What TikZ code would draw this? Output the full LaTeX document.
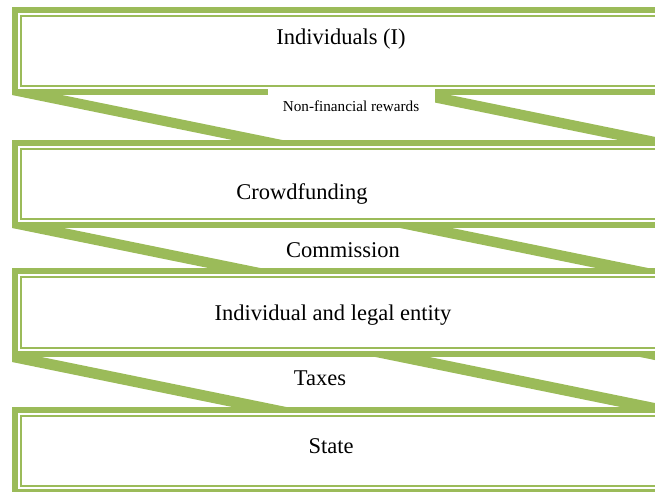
\documentclass[tikz,border=0pt]{standalone}
\usepackage{fontspec}
\setmainfont{Liberation Serif}
\usetikzlibrary{backgrounds}

\definecolor{leaf}{RGB}{155,187,89}

\begin{document}
\begin{tikzpicture}[x=1pt, y=1pt,
			stage/.style={draw=leaf, line width=6pt, outer sep=3pt, fill=white, inner sep=0pt,
				minimum width=705pt, minimum height=82pt,
				path picture={\draw[leaf, line width=1.6pt] ([shift={(6pt,-6pt)}]path picture bounding box.north west) rectangle ([shift={(-6pt,6pt)}]path picture bounding box.south east);}},
			big/.style={font=\fontsize{22.5}{27}\selectfont, anchor=base, inner sep=0pt},
			small/.style={font=\fontsize{15.2}{18}\selectfont, anchor=base, fill=white, inner sep=0pt,
				minimum width=167pt, text height=23pt, text depth=19pt},
			band/.style={fill=leaf}]
			\useasboundingbox (0,0) rectangle (655,491);
			% the four stages
			\node[stage](indiv) at (367.5,440){};
			\node[stage](crowd) at (367.5,307){};
			\node[stage, minimum height=83pt](entity) at (367.5,178.5){};
			\node[stage](state) at (367.5,40){};
			\node[big](indivtext) at (341,446){Individuals (I)};
			\node[big](crowdtext) at (302,292){Crowdfunding};
			\node[big](entitytext) at (333,171){Individual and legal entity};
			\node[big](statetext) at (331,38){State};
			% slanted bands between the stages
			\begin{scope}[on background layer]
				\fill[band] ([yshift=3pt]indiv.south west) -- ++(50,0) -- ++(0,-3) -- ++(235,-48) -- ++(-50,0) -- (indiv.south west) -- cycle;
				\fill[band] ([shift={(371.3,3)}]indiv.south west) -- ++(52,0) -- ++(235,-48) -- ++(-52,0) -- cycle;
				\fill[band] ([yshift=3pt]crowd.south west) -- ++(52,0) -- ++(0,-3) -- ++(211,-43) -- ++(-52,0) -- (crowd.south west) -- cycle;
				\fill[band] ([shift={(373.3,3)}]crowd.south west) -- ++(52,0) -- ++(225.4,-46) -- ++(-52,0) -- cycle;
				\fill[band] ([yshift=3pt]entity.south west) -- ++(14.8,0) -- ++(274.2,-56) -- ++(-54,0) -- ([yshift=-5pt]entity.south west) -- cycle;
				\fill[band] ([shift={(348.8,3)}]entity.south west) -- ++(54,0) -- ++(274.4,-56) -- ++(-54,0) -- cycle;
				\fill[band] ([shift={(613.3,3)}]entity.south west) -- ++(54,0) -- ++(274.4,-56) -- ++(-54,0) -- cycle;
			\end{scope}
			% flows
			\node[small](reward) at (351,379){Non-financial rewards};
			\node[big](commission) at (343,234){Commission};
			\node[big](taxes) at (320,106){Taxes};
	\end{tikzpicture}
\end{document}
